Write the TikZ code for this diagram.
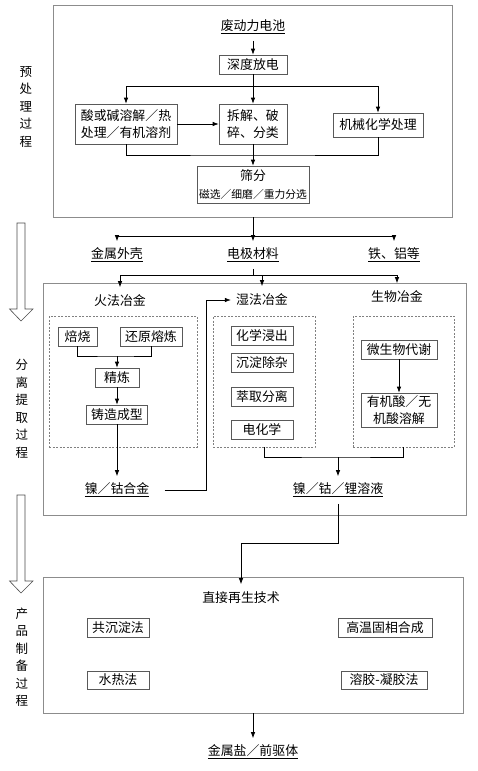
\documentclass[tikz,border=0pt]{standalone}
\usepackage{fontspec}
\setmainfont{Noto Sans CJK SC}
\usetikzlibrary{arrows.meta,calc}

\begin{document}
\begin{tikzpicture}[x=1pt,y=-1pt,line width=0.7pt,>={Latex[length=6pt,width=4.5pt]},
  font=\fontsize{12.9}{17.5}\selectfont]
  \tikzset{
    procbox/.style={draw=black!65,fill=white,inner sep=0pt,minimum height=19,align=center},
    frame/.style={draw=black!45,inner sep=0pt},
    dashframe/.style={draw=black!50,dash pattern=on 2pt off 1.5pt,line width=0.5pt,inner sep=0pt},
    result/.style={inner xsep=5pt,inner ysep=0pt,minimum height=27},
    stage/.style={align=center,font=\fontsize{12.5}{17.5}\selectfont},
    bigarrow/.style={draw=black!70,fill=white,line width=0.6pt}
  }
  \useasboundingbox (0,0) rectangle (477,771);

  % frames
  \node[frame,minimum width=399,minimum height=212] (pre) at (253,111) {};
  \node[frame,minimum width=423,minimum height=232] (sep) at (254.5,399) {};
  \node[frame,minimum width=420,minimum height=136] (post) at (253,645) {};
  \node[dashframe,minimum width=148,minimum height=131] (pyrobox) at (123,381.5) {};
  \node[dashframe,minimum width=102,minimum height=131] (hydrobox) at (264,381.5) {};
  \node[dashframe,minimum width=101,minimum height=131] (biobox) at (403.5,381.5) {};

  % stages
  \node[stage] (pretext) at (26,107) {预\\处\\理\\过\\程};
  \node[stage] (septext) at (22,409) {分\\离\\提\\取\\过\\程};
  \node[stage] (prodtext) at (22,657) {产\\品\\制\\备\\过\\程};
  \draw[bigarrow] (17,223) -- (25,223) -- (25,309) -- (33,309) -- (21,321) -- (9.5,309) -- (17,309) -- cycle;
  \draw[bigarrow] (17,495) -- (25,495) -- (25,581) -- (33,581) -- (21,593) -- (9.5,581) -- (17,581) -- cycle;

  % pretreatment
  \node[result] (battery) at (253,27) {\underline{废动力电池}};
  \node[procbox,minimum width=68] (dischg) at (253,64.5) {深度放电};
  \node[procbox,minimum width=102,minimum height=40] (acid) at (126,124) {酸或碱溶解／热\\处理／有机溶剂};
  \node[procbox,minimum width=68,minimum height=40] (dism) at (253,124) {拆解、破\\碎、分类};
  \node[procbox,minimum width=90,minimum height=24] (mech) at (378,125) {机械化学处理};
  \node[procbox,minimum width=112,minimum height=37] (sieve) at (253,184.5) {筛分\\{\fontsize{10.8}{13}\selectfont 磁选／细磨／重力分选}};
  \coordinate (split1) at (253,86);
  \coordinate (merge1) at (253,155);
  \draw[->] (battery) -- (dischg);
  \draw (dischg) -- (split1);
  \draw[->] (split1) -| (acid);
  \draw[->] (split1) -- (dism);
  \draw[->] (split1) -| (mech);
  \draw[->] (acid) -- (dism);
  \draw (acid.south) |- (merge1) -| (mech.south);
  \draw[->] (dism) -- (sieve);

  \node[result] (shell) at (117,255) {\underline{金属外壳}};
  \node[result] (elec) at (253,255) {\underline{电极材料}};
  \node[result] (iron) at (394,255) {\underline{铁、铝等}};
  \coordinate (split2) at (253,236);
  \draw (pre) -- (split2);
  \draw[->] (split2) -| (shell);
  \draw[->] (split2) -- (elec);
  \draw[->] (split2) -| (iron);

  % separation
  \node[result] (pyro) at (120,301) {火法冶金};
  \node[result] (hydro) at (262,300) {湿法冶金};
  \node[result] (bio) at (397,297) {生物冶金};
  \coordinate (split3) at (253,275);
  \draw (elec) -- (split3);
  \draw[->] (split3) -| (pyro);
  \draw[->] (split3) -| (hydro);
  \draw[->] (split3) -| (bio);

  \node[procbox,minimum width=39] (roast) at (77.5,336.5) {焙烧};
  \node[procbox,minimum width=62] (reduce) at (151,336.5) {还原熔炼};
  \node[procbox,minimum width=44] (refine) at (117,377.5) {精炼};
  \node[procbox,minimum width=61] (cast) at (117,414.5) {铸造成型};
  \coordinate (merge2) at (117,356);
  \draw (roast.south) |- (merge2) -| (reduce.south);
  \draw[->] (merge2) -- (refine);
  \draw[->] (refine) -- (cast);
  \node[result] (alloy) at (117,490) {\underline{镍／钴合金}};
  \draw[->] (cast) -- (alloy);
  \coordinate (turn1) at (206,490);
  \draw[->,shorten <=10pt] (alloy) -- (turn1) |- (hydro);

  \node[procbox,minimum width=62] (leach) at (262,335.5) {化学浸出};
  \node[procbox,minimum width=62] (purify) at (262,363) {沉淀除杂};
  \node[procbox,minimum width=62] (extract) at (262,397) {萃取分离};
  \node[procbox,minimum width=62] (electro) at (262,430) {电化学};

  \node[procbox,minimum width=76] (microbe) at (399,349.5) {微生物代谢};
  \node[procbox,minimum width=76,minimum height=34] (dissolve) at (399,410) {有机酸／无\\机酸溶解};
  \draw[->] (microbe) -- (dissolve);

  \node[result] (soln) at (338,490) {\underline{镍／钴／锂溶液}};
  \coordinate (merge3) at (338,457);
  \draw (hydrobox.south) |- (merge3) -| (biobox.south);
  \draw[->] (merge3) -- (soln);

  % products
  \node[result] (regen) at (241,598) {直接再生技术};
  \coordinate (turn2) at (338,543);
  \draw[->] (soln) -- (turn2) -| (regen);
  \node[procbox,minimum width=62] (copre) at (118,627.5) {共沉淀法};
  \node[procbox,minimum width=62,minimum height=18] (thermal) at (118,680) {水热法};
  \node[procbox,minimum width=94] (solid) at (385,627.5) {高温固相合成};
  \node[procbox,minimum width=86,minimum height=18] (solgel) at (384,680) {溶胶-凝胶法};
  \node[result] (salt) at (253,752) {\underline{金属盐／前驱体}};
  \draw[->] (post) -- (salt);
\end{tikzpicture}
\end{document}
